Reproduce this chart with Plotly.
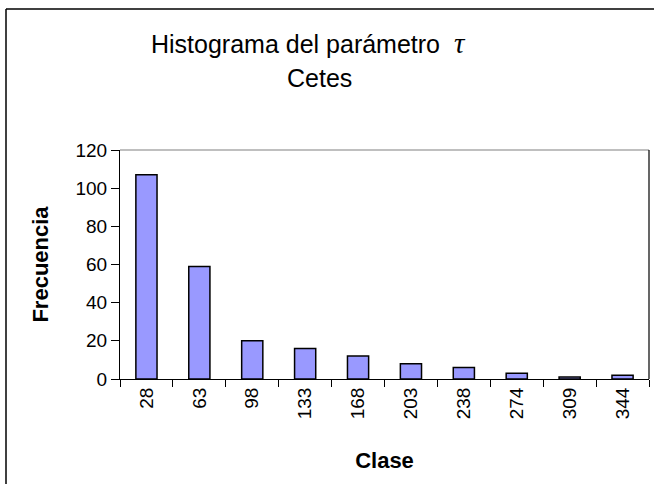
import plotly.graph_objects as go

clases = ["28", "63", "98", "133", "168", "203", "238", "274", "309", "344"]
frecuencia = [107, 59, 20, 16, 12, 8, 6, 3, 1, 2]
y_ticks = [0, 20, 40, 60, 80, 100, 120]

FONT = "Liberation Sans, Arial, sans-serif"

fig = go.Figure()

fig.add_trace(go.Bar(
    x=clases, y=frecuencia,
    width=0.4,
    marker=dict(color="#9999FF", line=dict(color="#000000", width=1.5)),
    showlegend=False,
))

# titulo en dos lineas (anotaciones para controlar el interlineado)
fig.add_annotation(
    text='Histograma del parámetro &nbsp;<span style="font-family:Liberation Serif, serif; font-size:29px"><i>τ</i></span>',
    xref="paper", yref="paper", x=0.356, y=1.466, yanchor="middle", showarrow=False,
    font=dict(family=FONT, size=25, color="#000000"),
)
fig.add_annotation(
    text="Cetes",
    xref="paper", yref="paper", x=0.378, y=1.313, yanchor="middle", showarrow=False,
    font=dict(family=FONT, size=25, color="#000000"),
)

# marco del grafico (recortado a la derecha y abajo)
fig.add_shape(type="line", xref="paper", yref="paper",
              x0=-0.2155, x1=1.05, y0=1.6157, y1=1.6157,
              line=dict(color="#000000", width=1.5))
fig.add_shape(type="line", xref="paper", yref="paper",
              x0=-0.2155, x1=-0.2155, y0=-0.55, y1=1.6157,
              line=dict(color="#000000", width=1.5))
# borde del area de trazado
fig.add_shape(type="line", xref="paper", yref="paper", x0=0, x1=1, y0=1, y1=1,
              line=dict(color="#808080", width=1.2))
fig.add_shape(type="line", xref="paper", yref="paper", x0=1, x1=1, y0=0, y1=1,
              line=dict(color="#000000", width=1.2))

fig.update_layout(
    width=654, height=484,
    margin=dict(l=120, r=5, t=150, b=105),
    paper_bgcolor="#FFFFFF",
    plot_bgcolor="#FFFFFF",
    font=dict(family=FONT, color="#000000"),
    bargap=0.6,
    xaxis=dict(
        type="category",
        title=dict(text="<b>Clase</b>", font=dict(size=22), standoff=34),
        tickangle=-90,
        tickfont=dict(size=19),
        ticks="outside", ticklen=7, tickcolor="#000000",
        tickson="boundaries",
        showline=True, linecolor="#000000", linewidth=1,
        showgrid=False, zeroline=False,
    ),
    yaxis=dict(
        title=dict(text="<b>Frecuencia</b>", font=dict(size=22), standoff=20),
        range=[0, 120],
        tickvals=y_ticks,
        tickfont=dict(size=19),
        ticks="outside", ticklen=8, tickcolor="#000000",
        showline=True, linecolor="#000000", linewidth=1,
        showgrid=False, zeroline=False,
    ),
)

fig.write_html("out.html", config={"displayModeBar": False},
               post_script="document.body.style.margin='0';")
